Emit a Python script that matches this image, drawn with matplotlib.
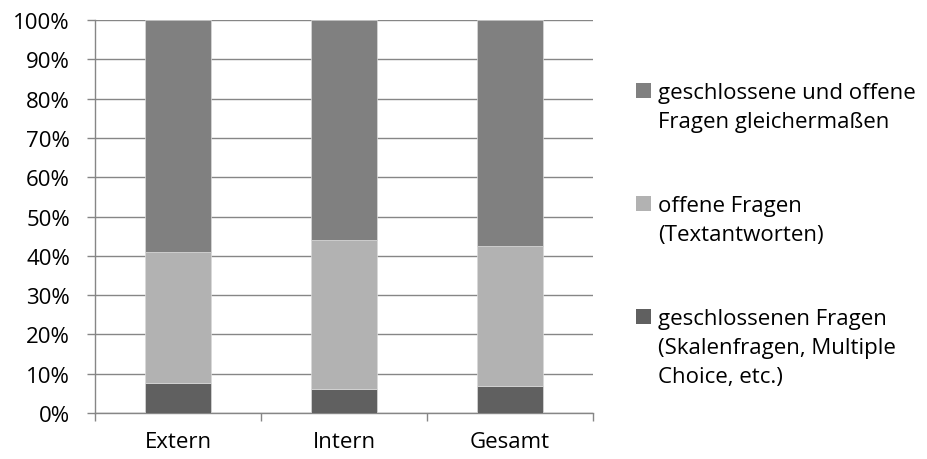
import matplotlib.pyplot as plt
from matplotlib.patches import Rectangle
import numpy as np

categories = ["Extern", "Intern", "Gesamt"]
geschlossen = [7.6, 6.2, 6.9]
offen = [33.3, 37.9, 35.7]
beides = [59.1, 55.9, 57.4]

labels = ["geschlossenen Fragen\n(Skalenfragen, Multiple\nChoice, etc.)",
          "offene Fragen\n(Textantworten)",
          "geschlossene und offene\nFragen gleichermaßen"]
colors = ["#606060", "#b2b2b2", "#808080"]

plt.rcParams['font.family'] = ['Open Sans', 'DejaVu Sans']
FS = 16
W, H = 927, 460

fig = plt.figure(figsize=(9.27, 4.6), dpi=100)
ax = fig.add_axes([95 / W, 1 - 414 / H, (593 - 95) / W, (414 - 21) / H])

x = np.arange(len(categories))
bottom = np.zeros(len(categories))
for vals, col, lab in zip([geschlossen, offen, beides], colors, labels):
    ax.bar(x, vals, 0.4, bottom=bottom, color=col, label=lab,
           edgecolor="#d9d9d9", linewidth=0.5, zorder=3)
    bottom += np.array(vals)

ax.set_xlim(-0.5, 2.5)
ax.set_ylim(0, 100)
ax.set_yticks(np.arange(0, 101, 10))
ax.set_yticklabels([f"{v}%" for v in range(0, 101, 10)])
ax.set_xticks(x)
ax.set_xticklabels(categories)
ax.set_xticks([-0.5, 0.5, 1.5, 2.5], minor=True)
ax.tick_params(axis='x', which='major', length=0, pad=13, labelsize=FS)
ax.tick_params(axis='x', which='minor', length=6, color='#868686', width=1.0)
ax.tick_params(axis='y', length=6, color='#868686', width=1.0, labelsize=FS, pad=12)
ax.yaxis.grid(True, color='#868686', linewidth=1.0, zorder=0)
ax.set_axisbelow(True)
for s in ['top', 'right']:
    ax.spines[s].set_visible(False)
for s in ['left', 'bottom']:
    ax.spines[s].set_color('#868686')
    ax.spines[s].set_linewidth(1.0)

# legend, reversed order, square aligned with the first text line
entry_base = [99, 212, 325]
line_h = 29
for (lab, col), yb in zip(list(zip(labels, colors))[::-1], entry_base):
    fig.patches.append(Rectangle((636 / W, 1 - yb / H), 15 / W, 15 / H,
                                 transform=fig.transFigure, facecolor=col,
                                 edgecolor='none'))
    for i, line in enumerate(lab.split("\n")):
        fig.text(658 / W, 1 - (yb + i * line_h) / H, line, fontsize=FS,
                 va='baseline', ha='left')

fig.savefig("out.png", dpi=100)
